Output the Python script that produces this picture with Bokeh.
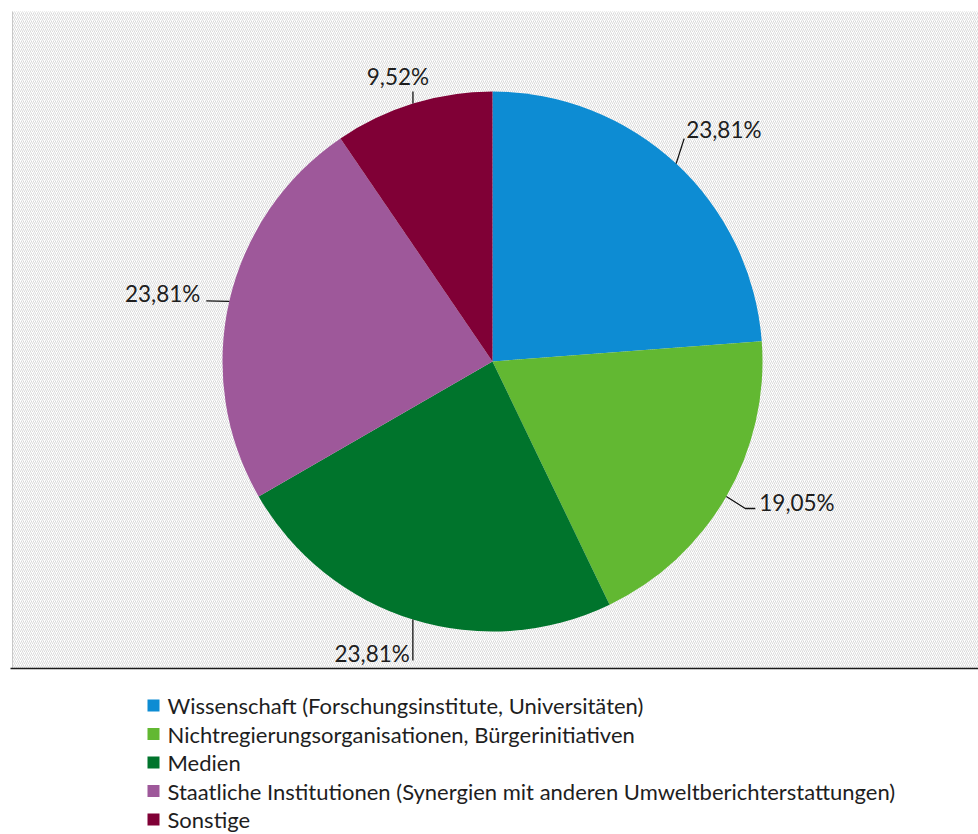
import math
from bokeh.plotting import figure
from bokeh.models import Range1d, ColumnDataSource
from bokeh.core.properties import value
from bokeh.embed import file_html
from bokeh.resources import INLINE

# ---- data ----
categories = [
    "Wissenschaft (Forschungsinstitute, Universitäten)",
    "Nichtregierungsorganisationen, Bürgerinitiativen",
    "Medien",
    "Staatliche Institutionen (Synergien mit anderen Umweltberichterstattungen)",
    "Sonstige",
]
shares = [23.81, 19.05, 23.81, 23.81, 9.52]
share_labels = ["23,81%", "19,05%", "23,81%", "23,81%", "9,52%"]
colors = ["#0D8CD3", "#62B832", "#00742C", "#9E589A", "#800036"]

# ---- layout (pixels) ----
W, H = 978, 834


def dx(X):
    return X


def dy(Y):
    return H - Y


cx, cy, R = dx(492), dy(361), 270

FONT = "Lato"
TEXT_COLOR = "#1e1e1e"

p = figure(width=W, height=H, output_backend="svg", toolbar_location=None,
           x_range=Range1d(0, W), y_range=Range1d(0, H),
           x_axis_location=None, y_axis_location=None,
           min_border=0, outline_line_color=None, tools="")
p.grid.visible = False
p.background_fill_color = "white"
p.border_fill_color = "white"

# hatched chart area
p.quad(left=[dx(12)], right=[W], bottom=[dy(668)], top=[dy(11)],
       fill_color="white", line_color=None,
       hatch_pattern="/", hatch_color="#d6d6d6", hatch_scale=4, hatch_weight=0.9)
p.segment(x0=[dx(12)], y0=[dy(11)], x1=[dx(12)], y1=[dy(668)],
          line_color="#c8c8c8", line_width=1)
p.segment(x0=[dx(10)], y0=[dy(668)], x1=[W], y1=[dy(668)],
          line_color="#1a1a1a", line_width=1.3)

# pie
total = sum(shares)
starts, ends, mids = [], [], []
acc = 0.0
for s in shares:
    a0 = math.pi / 2 - 2 * math.pi * acc / total
    acc += s
    a1 = math.pi / 2 - 2 * math.pi * acc / total
    starts.append(a0)
    ends.append(a1)
    mids.append((a0 + a1) / 2)

src = ColumnDataSource(dict(start=starts, end=ends, color=colors, cat=categories))
p.wedge(x=cx, y=cy, radius=R, start_angle="start", end_angle="end",
        direction="clock", fill_color="color", line_color=None, source=src)

# data labels with leader lines (offsets from slice edge midpoint, pixels)
label_layout = [
    dict(path=[(8, -25)], text=(10, -34), align="left"),
    dict(path=[(19, 12), (29, 12)], text=(33, 6), align="left"),
    dict(path=[(0, 41)], text=(-3, 34), align="right"),
    dict(path=[(-23, -0.5)], text=(-29, -8), align="right"),
    dict(path=[(0, -12)], text=(-15, -27), align="center"),
]

for m, lab, lay in zip(mids, share_labels, label_layout):
    ex = cx + R * math.cos(m)
    ey = cy + R * math.sin(m)
    xs = [ex] + [ex + ox for ox, oy in lay["path"]]
    ys = [ey] + [ey - oy for ox, oy in lay["path"]]
    p.line(xs, ys, line_color="#111111", line_width=1.3)
    tx, ty = lay["text"]
    p.text(x=[ex + tx], y=[ey - ty], text=[lab], text_font=value(FONT),
           text_font_size="22.5px", text_color=TEXT_COLOR,
           text_align=lay["align"], text_baseline="middle")

# legend
leg_x, leg_y0, leg_step = 153, 705, 28.5
lx = [dx(leg_x)] * len(categories)
ly = [dy(leg_y0 + i * leg_step) for i in range(len(categories))]
p.rect(x=lx, y=ly, width=12, height=12, fill_color=colors, line_color=None)
p.text(x=[v + 14 for v in lx], y=ly, text=categories, text_font=value(FONT),
       text_font_size="22px", text_color=TEXT_COLOR,
       text_align="left", text_baseline="middle")

open("out.html", "w").write(file_html(p, INLINE))
